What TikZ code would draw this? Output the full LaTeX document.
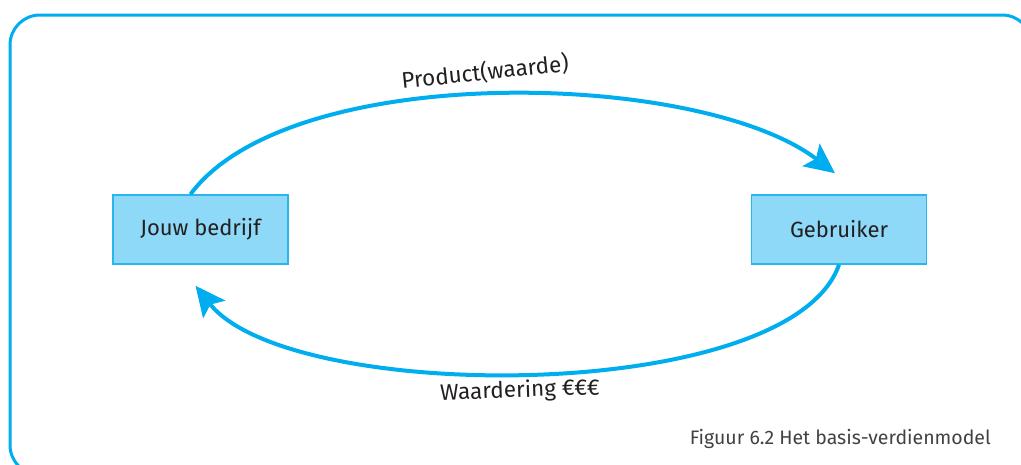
\documentclass[tikz,border=0pt]{standalone}
\usepackage{fontspec}
\setmainfont{Fira Sans}
\usetikzlibrary{arrows.meta,calc}
\definecolor{cyanline}{HTML}{00AEEF}
\definecolor{boxfill}{HTML}{8ED8F8}
\definecolor{boxdraw}{HTML}{29B6EC}
\definecolor{txt}{HTML}{231F20}
\tikzset{
  entity/.style={draw=boxdraw,line width=1.5pt,fill=boxfill,minimum width=175pt,minimum height=69pt,inner sep=0pt,font=\fontsize{22}{26}\selectfont,text=txt},
  flow/.style={draw=cyanline,line width=4pt,-{Stealth[length=30pt,width=28pt,inset=6pt]}},
  lbl/.style={font=\fontsize{22.5}{26}\selectfont,text=txt,inner sep=0pt}
}
\begin{document}
\begin{tikzpicture}[x=1pt,y=-1pt]
\useasboundingbox (0,0) rectangle (1021,464);
\begin{scope}
\clip (0,0) rectangle (1021,464);
\draw[cyanline,line width=3pt,rounded corners=30pt] (10,15) rectangle (1032,475);
\end{scope}
\node[entity] (a) at (200.5,229.5) {Jouw bedrijf};
\node[entity] (b) at (839,229.5) {Gebruiker};
\coordinate (tipb) at ([xshift=-4pt,yshift=21pt]b.north);
\coordinate (tipa) at ([xshift=-5pt,yshift=-21pt]a.south);
\draw[flow] ([xshift=-10pt]a.north) .. controls (290,60) and (700,70) .. (tipb);
\draw[flow] (b.south) .. controls (790,405) and (290,405) .. (tipa);
\node[lbl,rotate=6] (p) at (485,72) {Product(waarde)};
\node[lbl,rotate=2] (w) at (520,391) {Waardering €€€};
\node[font=\fontsize{19.5}{23}\selectfont,text=txt!85,inner sep=0pt,anchor=east] (cap) at (991,439) {Figuur 6.2 Het basis-verdienmodel};
\end{tikzpicture}
\end{document}
